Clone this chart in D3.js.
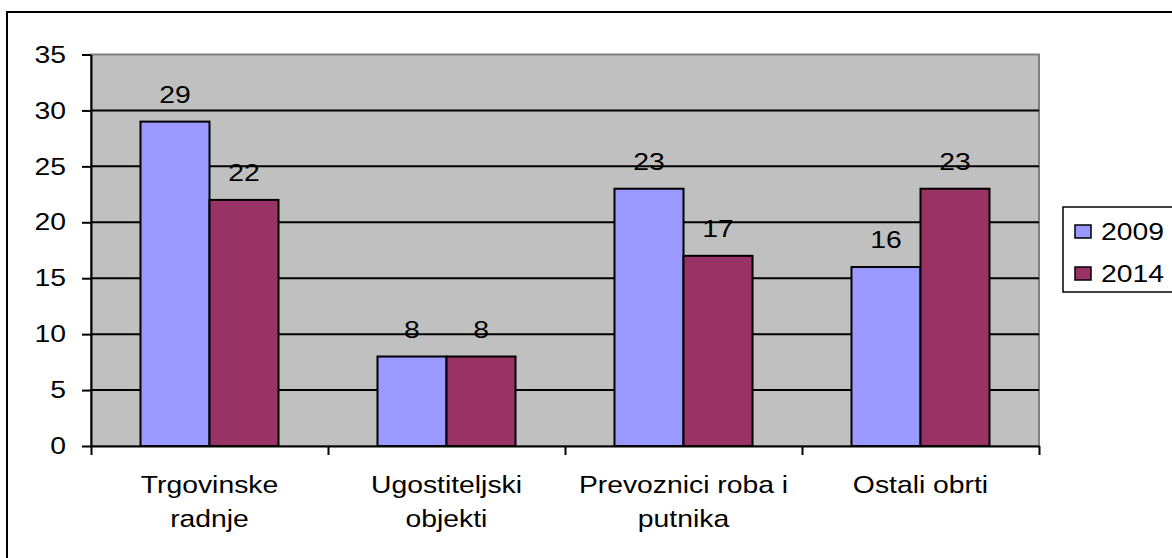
<!DOCTYPE html>
<html>
<head>
<meta charset="utf-8">
<script src="https://cdnjs.cloudflare.com/ajax/libs/d3/7.8.5/d3.min.js"></script>
<style>
body {
  margin: 0;
  background: #fff;
}
svg text {
  font-family: "Liberation Sans", Arial, sans-serif;
  font-size: 24px;
  fill: #000;
}
</style>
</head>
<body>
<svg id="chart" width="1172" height="558"></svg>
<script>
// chart data
var categories = [["Trgovinske", "radnje"], ["Ugostiteljski", "objekti"], ["Prevoznici roba i", "putnika"], ["Ostali obrti"]];
var series = ["2009", "2014"];
var values2009 = [29, 8, 23, 16];
var values2014 = [22, 8, 17, 23];
var yTicks = [0, 5, 10, 15, 20, 25, 30, 35];
var colors = ["#9999ff", "#993366"];

var svg = d3.select("#chart"),
  sx = 1.18; // the picture is a bit wider than tall, stretch the glyphs

var plotL = 91, plotR = 1039, plotT = 54.5, plotB = 446;

var catIdx = categories.map(function(d, i) { return i; });
var x0 = d3.scaleBand().domain(catIdx).range([plotL, plotR]);
var x1 = d3.scaleBand().domain(series).range([0, x0.bandwidth()])
  .paddingInner(0).paddingOuter(0.717);
var y = d3.scaleLinear().domain([0, 35]).range([plotB, plotT]);

function stretch(sel) {
  sel.each(function() {
    var t = d3.select(this), x = +t.attr("x") || 0;
    t.attr("x", 0).attr("transform", "translate(" + x + ",0) scale(" + sx + ",1)");
  });
}

// outer frame
svg.append("rect")
  .attr("x", 7).attr("y", 12)
  .attr("width", 1180).attr("height", 560)
  .attr("fill", "#fff").attr("stroke", "#000").attr("stroke-width", 2);

// plot area
svg.append("rect")
  .attr("x", plotL).attr("y", plotT)
  .attr("width", plotR - plotL).attr("height", plotB - plotT)
  .attr("fill", "#c0c0c0").attr("stroke", "#808080").attr("stroke-width", 2);

// grid lines
svg.append("g").selectAll("line")
  .data(yTicks.filter(function(d) { return d > 0 && d < 35; }))
  .enter().append("line")
  .attr("x1", plotL).attr("x2", plotR)
  .attr("y1", function(d) { return y(d); })
  .attr("y2", function(d) { return y(d); })
  .attr("stroke", "#000").attr("stroke-width", 2);

// bars
var data = catIdx.map(function(i) {
  return [{s: "2009", v: values2009[i], c: colors[0]}, {s: "2014", v: values2014[i], c: colors[1]}];
});

var groups = svg.append("g").selectAll("g")
  .data(data).enter().append("g")
  .attr("transform", function(d, i) { return "translate(" + x0(i) + ",0)"; });

groups.selectAll("rect")
  .data(function(d) { return d; })
  .enter().append("rect")
  .attr("x", function(d) { return x1(d.s); })
  .attr("y", function(d) { return y(d.v); })
  .attr("width", x1.bandwidth())
  .attr("height", function(d) { return y(0) - y(d.v); })
  .attr("fill", function(d) { return d.c; })
  .attr("stroke", "#000").attr("stroke-width", 2);

groups.selectAll("text")
  .data(function(d) { return d; })
  .enter().append("text")
  .attr("text-anchor", "middle")
  .attr("transform", function(d) {
    return "translate(" + (x1(d.s) + x1.bandwidth() / 2) + "," + (y(d.v) - 19) + ") scale(" + sx + ",1)";
  })
  .text(function(d) { return d.v; });

// y axis
var yAxis = svg.append("g")
  .attr("transform", "translate(" + plotL + ",0)")
  .call(d3.axisLeft(y).tickValues(yTicks).tickSize(9).tickSizeOuter(0).tickPadding(16));
yAxis.attr("font-size", null).attr("font-family", null);
yAxis.select(".domain").attr("stroke", "#000").attr("stroke-width", 2);
yAxis.selectAll(".tick line").attr("stroke", "#000").attr("stroke-width", 2);
yAxis.selectAll(".tick text").call(stretch);

// x axis, ticks between the categories
var xEdge = d3.scaleLinear().domain([0, categories.length]).range([plotL, plotR]);
var xAxis = svg.append("g")
  .attr("transform", "translate(0," + plotB + ")")
  .call(d3.axisBottom(xEdge).tickValues(d3.range(categories.length + 1))
    .tickSize(9).tickSizeOuter(0).tickFormat(""));
xAxis.select(".domain").attr("stroke", "#000").attr("stroke-width", 2);
xAxis.selectAll(".tick line").attr("stroke", "#000").attr("stroke-width", 2);

// category labels
catIdx.forEach(function(i) {
  var cx = x0(i) + x0.bandwidth() / 2;
  categories[i].forEach(function(line, j) {
    svg.append("text")
      .attr("text-anchor", "middle")
      .attr("transform", "translate(" + cx + "," + (493 + j * 34) + ") scale(" + sx + ",1)")
      .text(line);
  });
});

// legend
var legend = svg.append("g");
legend.append("rect")
  .attr("x", 1063).attr("y", 207)
  .attr("width", 140).attr("height", 85)
  .attr("fill", "#fff").attr("stroke", "#000").attr("stroke-width", 1.5);

series.forEach(function(s, i) {
  var cy = 231.5 + i * 42;
  legend.append("rect")
    .attr("x", 1075).attr("y", cy - 6.5)
    .attr("width", 16).attr("height", 13)
    .attr("fill", colors[i]).attr("stroke", "#000").attr("stroke-width", 1.5);
  legend.append("text")
    .attr("transform", "translate(1101," + (cy + 8.5) + ") scale(" + sx + ",1)")
    .text(s);
});
</script>
</body>
</html>
